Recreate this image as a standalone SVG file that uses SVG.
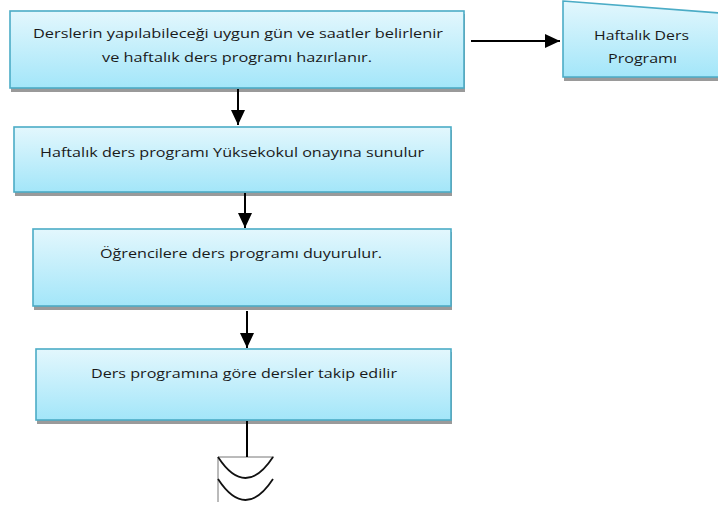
<svg xmlns="http://www.w3.org/2000/svg" width="718" height="506" viewBox="0 0 718 506">
<defs>
<linearGradient id="g" x1="0" y1="0" x2="0" y2="1">
<stop offset="0" stop-color="#e3f7fd"/>
<stop offset="1" stop-color="#a3e6f9"/>
</linearGradient>
<marker id="ah" markerUnits="userSpaceOnUse" markerWidth="16" markerHeight="16" viewBox="0 0 16 16" refX="15" refY="8" orient="auto">
<path d="M0,1 L15,8 L0,15 Z" fill="#000"/>
</marker>
<style>
.box{fill:url(#g);stroke:#4bacc6;stroke-width:1.6}
.sh{fill:#9a9a9a}
.t{font-family:"Open Sans","Liberation Sans",sans-serif;font-size:13.5px;fill:#1a1a1a;text-anchor:middle}
.c{stroke:#000;stroke-width:2;fill:none}
</style>
</defs>
<g id="n1">
<rect class="sh" x="11" y="14" width="454" height="78"/>
<rect class="box" x="10" y="11" width="454" height="77"/>
<text class="t" x="238" y="38" textLength="410" lengthAdjust="spacingAndGlyphs">Derslerin yapılabileceği uygun gün ve saatler belirlenir</text>
<text class="t" x="237" y="62" textLength="270" lengthAdjust="spacingAndGlyphs">ve haftalık ders programı hazırlanır.</text>
</g>
<g id="n2">
<polygon class="sh" points="564,5 720,17 720,81 564,81"/>
<polygon class="box" points="563,1 720,13 720,77 563,77"/>
<text class="t" x="641.5" y="40" textLength="95" lengthAdjust="spacingAndGlyphs">Haftalık Ders</text>
<text class="t" x="642.5" y="63" textLength="69" lengthAdjust="spacingAndGlyphs">Programı</text>
</g>
<g id="n3">
<rect class="sh" x="15" y="130" width="437" height="66"/>
<rect class="box" x="14" y="127" width="437" height="65"/>
<text class="t" x="232" y="157" textLength="384" lengthAdjust="spacingAndGlyphs">Haftalık ders programı Yüksekokul onayına sunulur</text>
</g>
<g id="n4">
<rect class="sh" x="34" y="232" width="418" height="78"/>
<rect class="box" x="33" y="229" width="418" height="77"/>
<text class="t" x="241" y="258" textLength="282" lengthAdjust="spacingAndGlyphs">Öğrencilere ders programı duyurulur.</text>
</g>
<g id="n5">
<rect class="sh" x="37" y="352" width="415" height="72"/>
<rect class="box" x="36" y="349" width="415" height="71"/>
<text class="t" x="244" y="378" textLength="306" lengthAdjust="spacingAndGlyphs">Ders programına göre dersler takip edilir</text>
</g>
<g id="n6">
<path d="M218,457 H274 M218,457 V502" stroke="#777" stroke-width="1" fill="none"/>
<path d="M218,457 Q245.5,499 273,457 M218,479 Q245.5,521 273,479" stroke="#111" stroke-width="1.8" fill="none"/>
</g>
<g id="connectors">
<line class="c" x1="471" y1="41" x2="560" y2="41" marker-end="url(#ah)"/>
<line class="c" x1="238" y1="89" x2="238" y2="125" marker-end="url(#ah)"/>
<line class="c" x1="245" y1="193" x2="245" y2="228" marker-end="url(#ah)"/>
<line class="c" x1="247" y1="311" x2="247" y2="348" marker-end="url(#ah)"/>
<line class="c" x1="247" y1="421" x2="247" y2="457"/>
</g>
</svg>
